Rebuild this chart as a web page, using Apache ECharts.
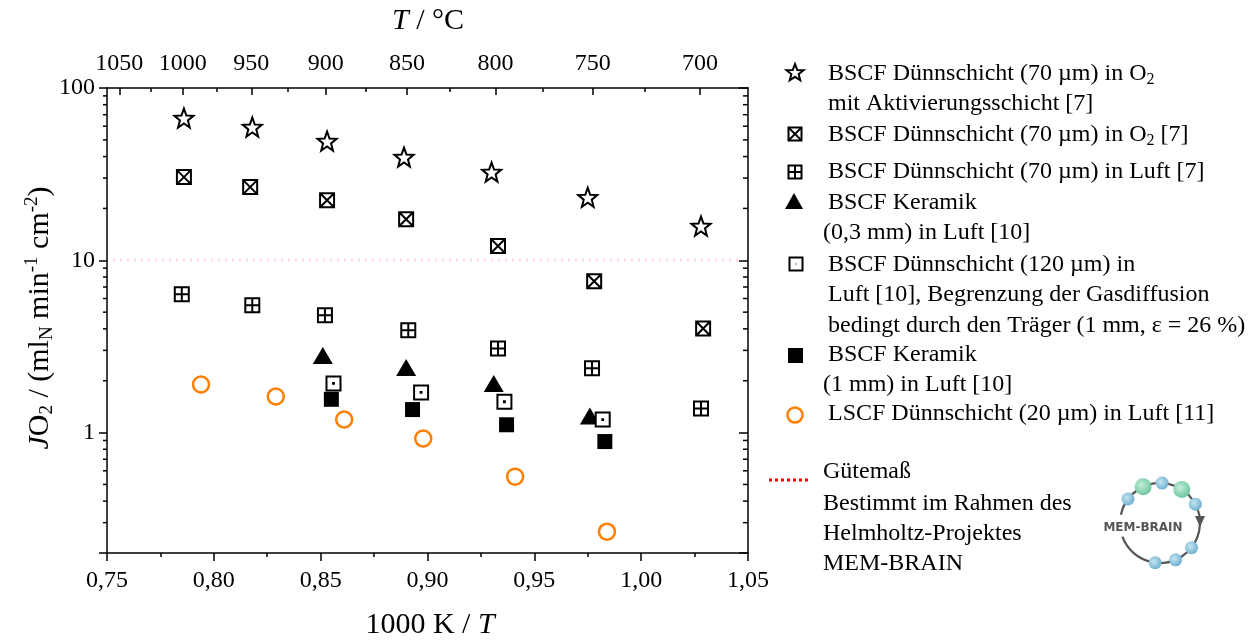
<!DOCTYPE html>
<html>
<head>
<meta charset="utf-8">
<script src="https://cdn.jsdelivr.net/npm/echarts@6/dist/echarts.min.js"></script>
<style>
  html, body { margin: 0; padding: 0; background: #fff; }
  #chart { width: 1260px; height: 641px; }
</style>
</head>
<body>
<div id="chart"></div>
<script>
// data (x = 1000 K / T, y = J_O2 in ml_N/(min cm2))
var starX = [0.786, 0.818, 0.853, 0.889, 0.930, 0.975, 1.028];
var starY = [66.9, 59.3, 49.2, 39.7, 32.5, 23.2, 15.8];
var crossX = [0.786, 0.817, 0.853, 0.890, 0.933, 0.978, 1.029];
var crossY = [30.4, 26.6, 22.3, 17.3, 12.1, 7.55, 4.02];
var plusX = [0.785, 0.818, 0.852, 0.891, 0.933, 0.977, 1.028];
var plusY = [6.35, 5.48, 4.79, 3.92, 3.08, 2.36, 1.38];
var triX = [0.851, 0.890, 0.931, 0.976];
var triY = [2.80, 2.39, 1.93, 1.25];
var dotX = [0.856, 0.897, 0.936, 0.982];
var dotY = [1.93, 1.71, 1.51, 1.19];
var fillX = [0.855, 0.893, 0.937, 0.983];
var fillY = [1.56, 1.36, 1.11, 0.887];
var lscfX = [0.794, 0.829, 0.861, 0.898, 0.941, 0.984];
var lscfY = [1.90, 1.62, 1.19, 0.923, 0.555, 0.266];
var gueteX = [0.753, 1.046];
var gueteY = [10, 10];

// ticks
var tempMajor = [1050, 1000, 950, 900, 850, 800, 750, 700];
var tempMinor = [1025, 975, 925, 875, 825, 775, 725];
var yMinor = [0.3, 0.4, 0.5, 0.6, 0.7, 0.8, 0.9, 2, 3, 4, 5, 6, 7, 8, 9, 20, 30, 40, 50, 60, 70, 80, 90];

var FF = "'Liberation Serif', 'Times New Roman', serif";
var starPath = 'M0,-10 L2.47,-3.4 L9.51,-3.09 L3.99,1.3 L5.88,8.09 L0,4.2 L-5.88,8.09 L-3.99,1.3 L-9.51,-3.09 L-2.47,-3.4 Z';
var crossPath = 'M0,0 H10 V10 H0 Z M0,0 L10,10 M10,0 L0,10';
var plusPath = 'M0,0 H10 V10 H0 Z M5,0 V10 M0,5 H10';
var dotPath = 'M0,0 H10 V10 H0 Z M4.7,4.7 H5.3 V5.3 H4.7 Z';

function pts(xs, ys) {
  return xs.map(function(x, i) { return [x, ys[i]]; });
}
function toInv(t) {
  return 1000 / (t + 273.15);
}

var chart = echarts.init(document.getElementById('chart'));

var black = { color: '#000', width: 1.5 };
var tickLabel = { fontFamily: FF, fontSize: 24, color: '#000' };
var hollow = { color: '#fff', borderColor: '#000', borderWidth: 2, opacity: 1 };
var stroke = { fill: '#fff', stroke: '#000', lineWidth: 2 };

// legend rich styles
var legRich = {
  n: { fontFamily: FF, fontSize: 24, color: '#000', lineHeight: 28 },
  s: { fontFamily: FF, fontSize: 16, color: '#000', lineHeight: 12, verticalAlign: 'bottom' }
};
function legText(x, y, txt) {
  return {
    type: 'text', x: x, y: y,
    style: { text: txt, rich: legRich, align: 'left', verticalAlign: 'middle' }
  };
}
// legend star outline
function starPoints(cx, cy, ro, ri) {
  var p = [];
  for (var k = 0; k < 10; k++) {
    var a = (-90 + k * 36) * Math.PI / 180;
    var r = k % 2 ? ri : ro;
    p.push([cx + r * Math.cos(a), cy + r * Math.sin(a)]);
  }
  return p;
}
function boxMarker(cx, cy, h, inner) {
  var els = [{ type: 'rect', shape: { x: cx - h, y: cy - h, width: 2 * h, height: 2 * h }, style: stroke }];
  if (inner === 'x') {
    els.push({ type: 'line', shape: { x1: cx - h, y1: cy - h, x2: cx + h, y2: cy + h }, style: stroke });
    els.push({ type: 'line', shape: { x1: cx + h, y1: cy - h, x2: cx - h, y2: cy + h }, style: stroke });
  } else if (inner === '+') {
    els.push({ type: 'line', shape: { x1: cx, y1: cy - h, x2: cx, y2: cy + h }, style: stroke });
    els.push({ type: 'line', shape: { x1: cx - h, y1: cy, x2: cx + h, y2: cy }, style: stroke });
  } else {
    els.push({ type: 'rect', shape: { x: cx - 0.5, y: cy - 0.5, width: 1, height: 1 }, style: { fill: '#000' } });
  }
  return els;
}

var graphics = [
  // axis titles
  {
    type: 'text', x: 430, y: 625,
    style: {
      text: '{n|1000 K / }{i|T}', align: 'center', verticalAlign: 'middle',
      rich: {
        n: { fontFamily: FF, fontSize: 30, color: '#000' },
        i: { fontFamily: FF, fontSize: 30, color: '#000', fontStyle: 'italic' }
      }
    }
  },
  {
    type: 'text', x: 428, y: 21,
    style: {
      text: '{i|T}{n| / °C}', align: 'center', verticalAlign: 'middle',
      rich: {
        n: { fontFamily: FF, fontSize: 30, color: '#000' },
        i: { fontFamily: FF, fontSize: 30, color: '#000', fontStyle: 'italic' }
      }
    }
  },
  {
    type: 'text', x: 40, y: 318, rotation: Math.PI / 2,
    style: {
      text: '{i|J}{n|O}{s|2}{n| / (ml}{s|N}{n| min}{p|-1}{n| cm}{p|-2}{n|)}',
      align: 'center', verticalAlign: 'middle',
      rich: {
        n: { fontFamily: FF, fontSize: 30, color: '#000', lineHeight: 34 },
        i: { fontFamily: FF, fontSize: 30, color: '#000', fontStyle: 'italic', lineHeight: 34 },
        s: { fontFamily: FF, fontSize: 19, color: '#000', lineHeight: 14, verticalAlign: 'bottom' },
        p: { fontFamily: FF, fontSize: 19, color: '#000', lineHeight: 14, verticalAlign: 'top' }
      }
    }
  },

  // legend markers
  { type: 'polygon', shape: { points: starPoints(795, 73, 9, 3.8) }, style: stroke },
  { type: 'polygon', shape: { points: [[794, 193], [803, 209], [785, 209]] }, style: { fill: '#000' } },
  { type: 'rect', shape: { x: 788, y: 348, width: 15, height: 15 }, style: { fill: '#000' } },
  { type: 'circle', shape: { cx: 795, cy: 415, r: 7.5 }, style: { fill: 'none', stroke: '#ff7f00', lineWidth: 2.5 } },
  { type: 'line', shape: { x1: 769, y1: 480, x2: 809, y2: 480 },
    style: { stroke: '#ff0000', lineWidth: 3, lineDash: [3, 3] } },

  // legend texts
  legText(828, 74, '{n|BSCF Dünnschicht (70 µm) in O}{s|2}'),
  legText(828, 104, '{n|mit Aktivierungsschicht [7]}'),
  legText(828, 135, '{n|BSCF Dünnschicht (70 µm) in O}{s|2}{n| [7]}'),
  legText(828, 172, '{n|BSCF Dünnschicht (70 µm) in Luft [7]}'),
  legText(828, 203, '{n|BSCF Keramik}'),
  legText(823, 233, '{n|(0,3 mm) in Luft [10]}'),
  legText(828, 265, '{n|BSCF Dünnschicht (120 µm) in}'),
  legText(828, 295, '{n|Luft [10], Begrenzung der Gasdiffusion}'),
  legText(828, 326, '{n|bedingt durch den Träger (1 mm, ε = 26 %)}'),
  legText(828, 355, '{n|BSCF Keramik}'),
  legText(823, 385, '{n|(1 mm) in Luft [10]}'),
  legText(828, 414, '{n|LSCF Dünnschicht (20 µm) in Luft [11]}'),
  legText(823, 472, '{n|Gütemaß}'),
  legText(823, 504, '{n|Bestimmt im Rahmen des}'),
  legText(823, 534, '{n|Helmholtz-Projektes}'),
  legText(823, 564, '{n|MEM-BRAIN}')
];
graphics = graphics.concat(boxMarker(795, 134, 6.5, 'x'), boxMarker(795, 172, 6.5, '+'), boxMarker(796, 264, 6.5, '.'));

// MEM-BRAIN logo
var logoC = [1160, 523];
var logoR = 40;
graphics.push({
  type: 'arc',
  shape: { cx: logoC[0], cy: logoC[1], r: logoR, startAngle: 192 * Math.PI / 180, endAngle: 520 * Math.PI / 180, clockwise: true },
  style: { stroke: '#555', lineWidth: 2.2, fill: 'none' }
});
graphics.push({
  type: 'polygon',
  shape: { points: [[1195, 516], [1205, 516], [1200, 527]] },
  style: { fill: '#555' }
});
var balls = [[217, 6.5, 'b'], [245, 8.5, 'g'], [273, 6.5, 'b'], [303, 8.5, 'g'], [332, 6.5, 'b'], [38, 6.5, 'b'], [67, 6.5, 'b'], [97, 6.5, 'b']];
balls.forEach(function(b) {
  var a = b[0] * Math.PI / 180;
  var stops = b[2] === 'g'
    ? [{ offset: 0, color: '#c4eed8' }, { offset: 1, color: '#62c298' }]
    : [{ offset: 0, color: '#c6e4f1' }, { offset: 1, color: '#63a9cc' }];
  graphics.push({
    type: 'circle',
    shape: { cx: logoC[0] + logoR * Math.cos(a), cy: logoC[1] + logoR * Math.sin(a), r: b[1] },
    style: { fill: { type: 'radial', x: 0.4, y: 0.4, r: 0.7, colorStops: stops } }
  });
});
graphics.push({
  type: 'text', x: 1143, y: 528,
  style: {
    text: 'MEM-BRAIN', fontFamily: "'DejaVu Sans', sans-serif", fontSize: 12, fontWeight: 'bold',
    fill: '#555', align: 'center', verticalAlign: 'middle'
  }
});

var option = {
  backgroundColor: '#fff',
  animation: false,
  grid: { left: 107, right: 512, top: 88, bottom: 88 },
  xAxis: [
    {
      type: 'value', position: 'bottom', min: 0.75, max: 1.05, interval: 0.05,
      axisLine: { lineStyle: black },
      axisTick: { length: 8, lineStyle: black },
      minorTick: { show: true, splitNumber: 2, length: 4, lineStyle: black },
      axisLabel: Object.assign({ margin: 16, formatter: function(v) { return v.toFixed(2).replace('.', ','); } }, tickLabel),
      splitLine: { show: false }
    },
    {
      type: 'value', position: 'top', min: 0.75, max: 1.05,
      axisLine: { lineStyle: black },
      axisTick: { inside: true, length: 7, lineStyle: black, customValues: tempMajor.map(toInv) },
      axisLabel: Object.assign({
        margin: 12, customValues: tempMajor.map(toInv),
        formatter: function(v) { return String(Math.round(1000 / v - 273.15)); }
      }, tickLabel),
      splitLine: { show: false }
    },
    {
      type: 'value', position: 'top', min: 0.75, max: 1.05,
      axisLine: { show: false },
      axisTick: { inside: true, length: 4, lineStyle: black, customValues: tempMinor.map(toInv) },
      axisLabel: { show: false },
      splitLine: { show: false }
    }
  ],
  yAxis: [
    {
      type: 'log', logBase: 10, min: 0.2, max: 100, position: 'left',
      axisLine: { lineStyle: black },
      axisTick: { length: 8, lineStyle: black },
      axisLabel: Object.assign({ margin: 12, formatter: function(v) { return v > 0.99 ? String(Math.round(v)) : ''; } }, tickLabel),
      splitLine: { show: false }
    },
    {
      type: 'log', logBase: 10, min: 0.2, max: 100, position: 'right',
      axisLine: { lineStyle: black },
      axisTick: { inside: true, length: 9, lineStyle: black },
      axisLabel: { show: false },
      splitLine: { show: false }
    }
  ],
  graphic: graphics,
  series: [
    {
      name: 'Gütemaß', type: 'line', data: pts(gueteX, gueteY), symbol: 'none', silent: true,
      lineStyle: { color: '#ffb8b8', width: 3, type: [1, 6] }
    },
    {
      // minor ticks of the log axes (left outside, right inside)
      type: 'custom', silent: true, clip: false,
      data: yMinor.map(function(v) { return [0.75, v]; }),
      renderItem: function(params, api) {
        var v = api.value(1);
        var l = api.coord([0.75, v]);
        var r = api.coord([1.05, v]);
        return {
          type: 'group',
          children: [
            { type: 'line', shape: { x1: l[0] - 4, y1: l[1], x2: l[0], y2: l[1] }, style: { stroke: '#000', lineWidth: 1.5 } },
            { type: 'line', shape: { x1: r[0] - 5, y1: r[1], x2: r[0], y2: r[1] }, style: { stroke: '#000', lineWidth: 1.5 } }
          ]
        };
      }
    },
    {
      name: 'BSCF Dünnschicht (70 µm) in O2 mit Aktivierungsschicht [7]', type: 'scatter',
      data: pts(starX, starY), symbol: 'path://' + starPath, symbolSize: 19, itemStyle: hollow
    },
    {
      name: 'BSCF Dünnschicht (70 µm) in O2 [7]', type: 'scatter',
      data: pts(crossX, crossY), symbol: 'path://' + crossPath, symbolSize: 14, itemStyle: hollow
    },
    {
      name: 'BSCF Dünnschicht (70 µm) in Luft [7]', type: 'scatter',
      data: pts(plusX, plusY), symbol: 'path://' + plusPath, symbolSize: 14, itemStyle: hollow
    },
    {
      name: 'BSCF Keramik (0,3 mm) in Luft [10]', type: 'scatter',
      data: pts(triX, triY), symbol: 'triangle', symbolSize: [20, 17], itemStyle: { color: '#000', opacity: 1 }
    },
    {
      name: 'BSCF Dünnschicht (120 µm) in Luft [10]', type: 'scatter',
      data: pts(dotX, dotY), symbol: 'path://' + dotPath, symbolSize: 14, itemStyle: hollow
    },
    {
      name: 'BSCF Keramik (1 mm) in Luft [10]', type: 'scatter',
      data: pts(fillX, fillY), symbol: 'rect', symbolSize: 15, itemStyle: { color: '#000', opacity: 1 }
    },
    {
      name: 'LSCF Dünnschicht (20 µm) in Luft [11]', type: 'scatter',
      data: pts(lscfX, lscfY), symbol: 'circle', symbolSize: 16,
      itemStyle: { color: '#fff', borderColor: '#ff7f00', borderWidth: 2.5, opacity: 1 }
    }
  ]
};

chart.setOption(option);
</script>
</body>
</html>
